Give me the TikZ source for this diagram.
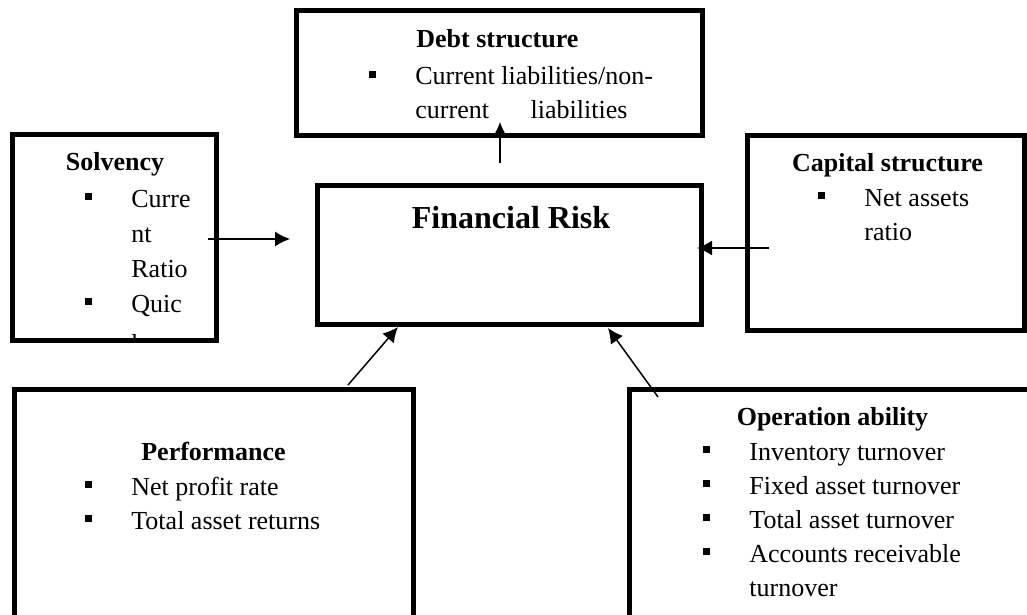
\documentclass[tikz,border=0pt]{standalone}
\usepackage{fontspec}
\setmainfont{Liberation Serif}
\usetikzlibrary{positioning, calc, arrows.meta}

\newcommand{\txt}{\fontsize{13pt}{17pt}\selectfont}
\newcommand{\sqb}{\rule[3.4pt]{3.5pt}{3.5pt}}
\newcommand{\itm}{\makebox[23pt][l]{\sqb}}

\begin{document}
\begin{tikzpicture}[x=0.5pt, y=-0.5pt]
\tikzstyle{blk}=[rectangle, draw=black, line width=2.5pt, inner sep=0pt, outer sep=0pt]
\tikzstyle{connect}=[-{Latex[length=7.5pt, width=7.5pt]}, line width=0.75pt]
\tikzstyle{hd}=[font=\txt\bfseries, inner sep=0pt]
\tikzstyle{lst}=[font=\txt, inner sep=0pt, anchor=base west]

\clip (0,0) rectangle (1027,615);

% 1. Boxes
%%%%%%%%%%
\node[blk, minimum width=203pt, minimum height=62pt] (debt) at (499,73) {};
\node[blk, minimum width=102pt, minimum height=103pt] (solv) at (114,237) {};
\node[blk, minimum width=192pt, minimum height=69.5pt] (fr) at (509,254.5) {};
\node[blk, minimum width=138.5pt, minimum height=97.5pt] (cap) at (885.5,232.5) {};
\node[blk, minimum width=199.5pt, minimum height=125.5pt] (perf) at (213.5,514.5) {};
\node[blk, minimum width=215.5pt, minimum height=125.5pt] (op) at (844.5,514.5) {};

% 2. Texts
%%%%%%%%%%
\node[hd, anchor=base, font=\fontsize{16pt}{19pt}\selectfont\bfseries] (frT) at (511,228) {Financial Risk};

\node[hd, anchor=base west] (debtT) at (416,48) {Debt structure};
\node[lst] (debtL) at (369,85) {\begin{tabular}[t]{@{}l@{}l@{}}
  \itm & Current liabilities/non-\\
       & \makebox[106pt][s]{current\hfill liabilities}
\end{tabular}};

\begin{scope}
\clip ($(solv.south west)+(2.5,-2.5)$) rectangle ($(solv.north east)+(-2.5,2.5)$);
\node[hd, anchor=base] (solvT) at (115,170) {Solvency};
\node[lst] (solvL) at (85,207) {\begin{tabular}[t]{@{}l@{}l@{}}
  \itm & Curre\\[0.5pt]
       & nt\\[0.5pt]
       & Ratio\\[0.5pt]
  \itm & Quic\\[3pt]
       & k
\end{tabular}};
\end{scope}

\node[hd, anchor=base] (capT) at (887.5,171) {Capital structure};
\node[lst] (capL) at (818,206) {\begin{tabular}[t]{@{}l@{}l@{}}
  \itm & Net assets\\
       & ratio
\end{tabular}};

\node[hd, anchor=base] (perfT) at (213.5,460) {Performance};
\node[lst] (perfL) at (85,495) {\begin{tabular}[t]{@{}l@{}l@{}}
  \itm & Net profit rate\\
  \itm & Total asset returns
\end{tabular}};

\node[hd, anchor=base] (opT) at (832.5,425) {Operation ability};
\node[lst] (opL) at (703,460) {\begin{tabular}[t]{@{}l@{}l@{}}
  \itm & Inventory turnover\\
  \itm & Fixed asset turnover\\
  \itm & Total asset turnover\\
  \itm & Accounts receivable\\
       & turnover
\end{tabular}};

% 3. Arrows
%%%%%%%%%%%
\path ($(solv.east)+(-8,2)$)    edge [connect] ($(fr.west)+(-27,-15.5)$)
      ($(fr.north)+(-9,-22)$)   edge [connect] ($(debt.south)+(1,-13)$)
      ($(cap.west)+(22,15.5)$)  edge [connect] ($(fr.east)+(-4,-6.5)$)
      ($(perf.north)+(134.5,-4)$) edge [connect] ($(fr.south)+(-111,3)$)
      ($(op.north)+(-186.5,8)$) edge [connect] ($(fr.south)+(99,4)$);

\end{tikzpicture}
\end{document}
